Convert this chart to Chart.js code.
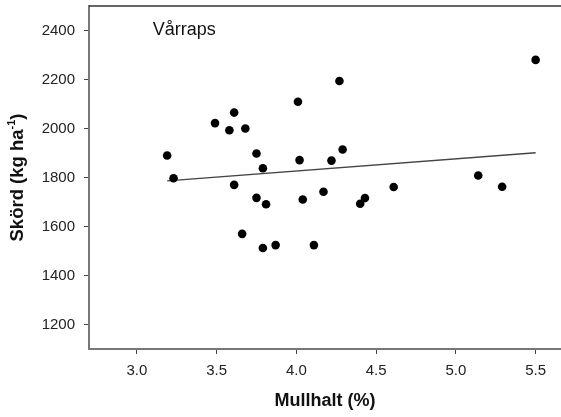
<!DOCTYPE html>
<html>
<head>
<meta charset="utf-8">
<script src="https://cdn.jsdelivr.net/npm/chart.js@4"></script>
<style>
  body { margin: 0; background: #fff; }
</style>
</head>
<body>
<canvas id="chart" width="561" height="417"></canvas>
<script>
// Mullhalt (%) vs Skörd (kg ha-1), Vårraps
const mullhalt = [3.19, 3.23, 3.49, 3.61, 3.58, 3.68, 3.75, 3.79, 3.61, 3.75,
                  3.81, 4.01, 4.02, 5.50, 4.27, 4.22, 4.29, 4.17, 4.04, 4.43,
                  4.40, 4.61, 5.14, 5.29, 3.66, 3.79, 3.87, 4.11];
const skord = [1890, 1797, 2022, 2065, 1993, 2000, 1898, 1838, 1770, 1717,
               1691, 2109, 1871, 2280, 2194, 1869, 1914, 1742, 1710, 1716,
               1693, 1761, 1808, 1762, 1570, 1512, 1524, 1524];

// regression line end points
const trendX = [3.19, 5.50];
const trendY = [1786, 1901];

const xTicks = [3.0, 3.5, 4.0, 4.5, 5.0, 5.5];
const yTicks = [1200, 1400, 1600, 1800, 2000, 2200, 2400];

const fontFam = "'Liberation Sans', Arial, sans-serif";

const extras = {
  id: 'extras',
  afterDraw(chart) {
    const ctx = chart.ctx;
    const a = chart.chartArea;
    const xs = chart.scales.x, ys = chart.scales.y;
    ctx.save();

    // top frame line, runs off the right edge like the original crop
    ctx.strokeStyle = '#333';
    ctx.lineWidth = 1.5;
    ctx.beginPath();
    ctx.moveTo(a.left, a.top);
    ctx.lineTo(chart.width, a.top);
    ctx.stroke();
    // bottom axis continues to the edge too
    ctx.strokeStyle = '#777';
    ctx.lineWidth = 2;
    ctx.beginPath();
    ctx.moveTo(a.right - 1, a.bottom);
    ctx.lineTo(chart.width, a.bottom);
    ctx.stroke();

    ctx.fillStyle = '#111';
    // panel label
    ctx.font = '18px ' + fontFam;
    ctx.textAlign = 'left';
    ctx.textBaseline = 'middle';
    ctx.fillText('Vårraps', xs.getPixelForValue(3.1), ys.getPixelForValue(2400));

    // x title
    ctx.font = 'bold 18px ' + fontFam;
    ctx.textAlign = 'center';
    ctx.fillText('Mullhalt (%)', (a.left + chart.width) / 2, 401);

    // y title with superscript
    const main = 'Skörd (kg ha';
    const sup = '-1';
    const end = ')';
    const big = 'bold 18.5px ' + fontFam;
    const small = 'bold 11px ' + fontFam;
    ctx.font = big;
    const w1 = ctx.measureText(main).width;
    const w3 = ctx.measureText(end).width;
    ctx.font = small;
    const w2 = ctx.measureText(sup).width;
    const total = w1 + w2 + w3;
    ctx.translate(17.5, (a.top + a.bottom) / 2);
    ctx.rotate(-Math.PI / 2);
    ctx.textAlign = 'left';
    let px = -total / 2;
    ctx.font = big;
    ctx.fillText(main, px, 0);
    px += w1;
    ctx.font = small;
    ctx.fillText(sup, px, -6);
    px += w2;
    ctx.font = big;
    ctx.fillText(end, px, 0);

    ctx.restore();
  }
};

new Chart(document.getElementById('chart'), {
  type: 'scatter',
  data: {
    datasets: [
      {
        label: 'Skörd',
        data: mullhalt.map((m, i) => ({ x: m, y: skord[i] })),
        backgroundColor: '#000',
        borderWidth: 0,
        pointRadius: 4.3,
        pointHoverRadius: 4.3
      },
      {
        type: 'line',
        label: 'Regression',
        data: trendX.map((t, i) => ({ x: t, y: trendY[i] })),
        borderColor: '#444',
        borderWidth: 1.3,
        pointRadius: 0,
        fill: false
      }
    ]
  },
  options: {
    responsive: false,
    animation: false,
    layout: { padding: { top: 6, right: 0, left: 0, bottom: 0 } },
    plugins: {
      legend: { display: false },
      tooltip: { enabled: false }
    },
    scales: {
      x: {
        type: 'linear',
        min: 2.7,
        max: 5.632,
        afterBuildTicks: s => { s.ticks = xTicks.map(v => ({ value: v })); },
        afterFit: s => { s.height = 68; s.paddingLeft = 0; s.paddingRight = 0; },
        ticks: {
          callback: v => v.toFixed(1),
          color: '#222',
          padding: 8,
          maxRotation: 0,
          font: { family: fontFam, size: 15 }
        },
        grid: {
          display: true,
          drawOnChartArea: false,
          tickLength: 5,
          tickColor: '#444'
        },
        border: { color: '#777', width: 2 }
      },
      y: {
        min: 1100,
        max: 2500,
        afterBuildTicks: s => { s.ticks = yTicks.map(v => ({ value: v })); },
        afterFit: s => { s.width = 89; s.paddingTop = 0; s.paddingBottom = 0; },
        ticks: {
          callback: v => String(v),
          color: '#222',
          padding: 9,
          font: { family: fontFam, size: 15 }
        },
        grid: {
          display: true,
          drawOnChartArea: false,
          tickLength: 5,
          tickColor: '#444'
        },
        border: { color: '#777', width: 2 }
      }
    }
  },
  plugins: [extras]
});
</script>
</body>
</html>
